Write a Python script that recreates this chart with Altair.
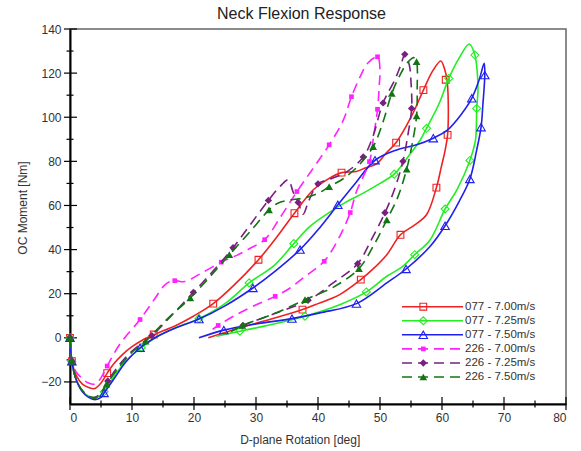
import altair as alt
import pandas as pd

# ---------------- data ----------------
names = ["077 - 7.00m/s", "077 - 7.25m/s", "077 - 7.50m/s",
         "226 - 7.00m/s", "226 - 7.25m/s", "226 - 7.50m/s"]

# 077 - 7.00 m/s
red_x = [0, 0.3, 1, 2, 3, 4, 5, 6, 7, 8.5, 10, 12, 14, 17, 19.9, 23.1, 26.5, 30.4, 33.3, 36.2,
         39.2, 41.4, 43.8, 46.2, 47.6, 49.5, 51, 52.6, 55, 57, 58.5, 59.8, 60.4, 60.8, 61, 60.9,
         60.5, 59.9, 59.1, 57.5, 55.5, 53.3, 51.1, 48.8, 46.9, 43.5, 40, 37.5, 33, 28, 22.3]
red_y = [0, -10.6, -17, -21, -22.5, -23, -20.5, -16, -12, -7.5, -4, -0.5, 2, 5.5, 9.8, 15.5, 24, 35.4, 45.5, 56.5,
         67, 71.6, 74.9, 75.4, 77, 79, 83.8, 88.5, 100, 112.3, 121, 125.5, 122, 117, 107.8, 92,
         85, 77.6, 68.1, 55.8, 51, 46.7, 37.7, 31, 26.4, 19.6, 15.5, 12.8, 9, 5, 0]
red_mx = [0, 0.3, 6, 13.5, 23.1, 30.4, 36.2, 43.8, 52.6, 57, 60.6, 60.9, 59.1, 53.3, 46.9, 37.5]
red_my = [0, -10.6, -16, 1.5, 15.5, 35.4, 56.5, 74.9, 88.5, 112.3, 117, 92, 68.1, 46.7, 26.4, 12.8]

# 077 - 7.25 m/s
grn_x = [0, 0.3, 1, 2, 3, 4, 5, 5.5, 7, 9, 11.5, 14, 17, 20.8, 25, 28.9, 33, 36.1, 38.7, 41.9,
         44.5, 47.3, 50, 52.3, 54.5, 56.5, 57.5, 59.5, 61.1, 62.8, 64.4, 65.3, 65.7, 65.8, 65.6, 65.4,
         64.5, 62.4, 60.5, 58.1, 55.6, 53.5, 51.1, 47.8, 43.5, 37.9, 32.5, 27.4, 23.6]
grn_y = [0, -10.6, -19, -24, -26.5, -27, -26, -24.5, -18, -10.5, -4.5, 0.5, 4.5, 8.7, 15.5, 24.9, 33, 42.7, 50.5, 57,
         61.5, 65.6, 70, 74.2, 82, 89.7, 95, 106, 117.6, 127, 133.2, 128.2, 119.9, 112, 104, 89.7,
         80.4, 67.1, 58.4, 44.5, 37.7, 32, 27.9, 20.8, 15, 9.8, 6, 3, 0.7]
grn_mx = [0, 0.3, 5.5, 11.5, 20.8, 28.9, 36.1, 52.3, 57.5, 61.1, 65.3, 65.6, 64.5, 60.5, 55.6, 47.8, 37.9, 27.4]
grn_my = [0, -10.6, -24.5, -4.5, 8.7, 24.9, 42.7, 74.2, 95, 117.6, 128.2, 104, 80.4, 58.4, 37.7, 20.8, 9.8, 3]

# 077 - 7.50 m/s
blu_x = [0, 0.3, 1, 2, 3, 4, 5, 5.5, 7, 9, 11.3, 14, 17, 20.8, 25, 29.5, 33, 37.1, 40, 43.2,
         46, 49.2, 52.7, 55.9, 58.6, 60.8, 62.4, 64.8, 66, 66.8, 66.9, 66.6, 66.3, 65.6, 64.5, 62.8,
         60.5, 58.1, 54.2, 51.1, 46.2, 40.3, 35.8, 30, 24.8, 20.8]
blu_y = [0, -10.6, -19, -24.5, -27, -28, -27, -25, -19, -11, -4.5, 0.5, 4.5, 8.5, 14.5, 22.6, 30, 40, 49, 60.3,
         70, 80.5, 85.2, 87.5, 90.5, 94, 98.8, 108.6, 117, 124.4, 119.1, 106, 95.5, 85.2, 72, 62,
         50.8, 41.5, 31.2, 24.9, 15.5, 11.3, 8.7, 6.3, 3.5, 0]
blu_mx = [0, 0.3, 5.5, 11.3, 20.8, 29.5, 37.1, 43.2, 49.2, 58.6, 64.8, 66.9, 66.3, 64.5, 60.5, 54.2, 46.2, 35.8, 24.8]
blu_my = [0, -10.6, -25, -4.5, 8.5, 22.6, 40, 60.3, 80.5, 90.5, 108.6, 119.1, 95.5, 72, 50.8, 31.2, 15.5, 8.7, 3.5]

# 226 - 7.00 m/s
mag_x = [0, 0.3, 1, 2, 3, 4, 4.8, 6, 8, 11.3, 13.5, 15.5, 16.9, 18.5, 21, 24.4, 27, 29, 31.4, 34,
         36.6, 39, 41.8, 44.1, 45.4, 46.8, 48, 49.6, 50, 49.9, 49.6, 49, 48.3, 46.2, 45.2, 43.5,
         41, 38, 35.5, 33.1, 29.5, 26.5, 23.9, 23]
mag_y = [0, -10.6, -15.5, -18.5, -20.5, -21, -19, -12.8, -3, 8.3, 17, 24.5, 25.9, 25.5, 29, 34.3, 37.5, 40.5, 44.5, 55,
         66.3, 76, 87.5, 98.8, 109.3, 118.4, 124.5, 127.4, 121, 115.4, 103.6, 92, 79.9, 66.3, 56.8, 46,
         34.7, 28, 22.6, 18.8, 14.3, 10, 5.6, 3.8]
mag_mx = [0, 0.3, 6, 11.3, 16.9, 24.4, 31.4, 36.6, 41.8, 45.4, 49.6, 49.6, 48.3, 45.2, 41, 33.1, 23.9]
mag_my = [0, -10.6, -12.8, 8.3, 25.9, 34.3, 44.5, 66.3, 87.5, 109.3, 127.4, 103.6, 79.9, 56.8, 34.7, 18.8, 5.6]

# 226 - 7.25 m/s
pur_x = [0, 0.3, 1, 2, 3, 4, 5, 6.1, 8, 10, 13.2, 16.5, 19.9, 23, 26.3, 29, 32, 34, 35.2, 36,
         36.8, 37.6, 38.5, 40, 42, 44.5, 47.3, 48.7, 50.5, 52.4, 53.4, 54, 54.7, 55, 55.1, 54.5,
         53.7, 52.3, 50.8, 48.7, 46.4, 42.5, 38.4, 33, 27.9, 26]
pur_y = [0, -10.6, -19, -24, -26.5, -27, -25, -19.6, -12, -6, 1, 10.5, 20.6, 30, 40.8, 51, 62.3, 69, 71.6, 66,
         61.4, 56, 62, 69.8, 72, 75, 82, 90, 106.5, 117, 124, 128.5, 124, 116, 104, 92,
         80, 67, 56.7, 45, 33.6, 25, 17, 11, 5.6, 3]
pur_mx = [0, 0.3, 6.1, 13.2, 19.9, 26.3, 32, 36.8, 40, 47.3, 50.5, 54, 55.1, 53.7, 50.8, 46.4, 38.4, 27.9]
pur_my = [0, -10.6, -19.6, 1, 20.6, 40.8, 62.3, 61.4, 69.8, 82, 106.5, 128.5, 104, 80, 56.7, 33.6, 17, 5.6]

# 226 - 7.50 m/s
dgr_x = [0, 0.3, 1, 2, 3, 4, 5, 5.9, 8, 10, 12.2, 15.5, 19.4, 22.5, 25.7, 29, 32.1, 33.5, 35.5, 38,
         40, 41.8, 44, 46.5, 48.9, 50.5, 51.9, 53.2, 54.5, 55.5, 55.9, 56, 55.9, 55.2, 54.3, 52.9,
         51.1, 49, 46.6, 42.5, 37.9, 33, 27.8, 26]
dgr_y = [0, -10.6, -19, -24, -26.5, -27.5, -25, -21, -13, -6.5, -1.5, 8, 18.1, 27.5, 37.7, 48, 58, 61, 62.5, 63.5,
         65.5, 68.5, 72, 78, 86.7, 98, 110.8, 119, 125, 127, 125.2, 113, 100.6, 88, 76.5, 64,
         53.5, 42, 31.4, 23, 17.3, 11, 5.6, 3]
dgr_mx = [0, 0.3, 5.9, 12.2, 19.4, 25.7, 32.1, 41.8, 48.9, 51.9, 55.9, 55.9, 54.3, 51.1, 46.6, 37.9, 27.8]
dgr_my = [0, -10.6, -21, -1.5, 18.1, 37.7, 58, 68.5, 86.7, 110.8, 125.2, 100.6, 76.5, 53.5, 31.4, 17.3, 5.6]

x_major = [0, 10, 20, 30, 40, 50, 60, 70, 80]
x_minor = [5, 15, 25, 35, 45, 55, 65, 75]
y_major = [-20, 0, 20, 40, 60, 80, 100, 120, 140]
y_minor = [-10, 10, 30, 50, 70, 90, 110, 130]

# ---------------- styling ----------------
colors = ["#ee2222", "#22ee22", "#1f1fee", "#ff22ff", "#7a1f80", "#137413"]
shapes = ["square", "diamond", "triangle-up", "square", "diamond", "triangle-up"]
filled = [False, False, False, True, True, True]
dashed = [False, False, False, True, True, True]
msize = [46, 64, 72, 22, 55, 60]

series = [
    (red_x, red_y, red_mx, red_my),
    (grn_x, grn_y, grn_mx, grn_my),
    (blu_x, blu_y, blu_mx, blu_my),
    (mag_x, mag_y, mag_mx, mag_my),
    (pur_x, pur_y, pur_mx, pur_my),
    (dgr_x, dgr_y, dgr_mx, dgr_my),
]

W, H = 496, 375
FONT = "Liberation Sans"
xsc = alt.Scale(domain=[0, 80], nice=False, zero=False)
ysc = alt.Scale(domain=[-30, 140], nice=False, zero=False)

ax_x = alt.Axis(values=x_major, ticks=False, tickSize=0, labelPadding=8, grid=False,
                domainColor="black", domainWidth=2, labelFont=FONT, labelFontSize=12,
                labelColor="#333333", title="D-plane Rotation [deg]", titleFont=FONT,
                titleFontSize=12, titleFontWeight="normal", titleColor="#333333",
                titleX=229.7, titleY=39.5, titleBaseline="alphabetic")
ax_y = alt.Axis(values=y_major, ticks=False, tickSize=0, labelPadding=9, grid=False,
                domainColor="black", domainWidth=2, labelFont=FONT, labelFontSize=12,
                labelColor="#333333", title="OC Moment [Nm]", titleFont=FONT,
                titleFontSize=12, titleFontWeight="normal", titleColor="#333333",
                titleX=-43.3, titleY=178.5, titleBaseline="alphabetic", titleAngle=270)

X = lambda f: alt.X(f, scale=xsc, axis=ax_x)
Y = lambda f: alt.Y(f, scale=ysc, axis=ax_y)

layers = []

# tick marks crossing the axes
layers.append(alt.Chart(pd.DataFrame({"v": y_major})).mark_rule(color="black", strokeWidth=1.2)
              .encode(y=Y("v:Q"), x=alt.value(-6), x2=alt.value(7)))
layers.append(alt.Chart(pd.DataFrame({"v": y_minor})).mark_rule(color="black", strokeWidth=1.2)
              .encode(y=Y("v:Q"), x=alt.value(-3.5), x2=alt.value(3.5)))
layers.append(alt.Chart(pd.DataFrame({"v": x_major})).mark_rule(color="black", strokeWidth=1.2)
              .encode(x=X("v:Q"), y=alt.value(H - 7), y2=alt.value(H + 6)))
layers.append(alt.Chart(pd.DataFrame({"v": x_minor})).mark_rule(color="black", strokeWidth=1.2)
              .encode(x=X("v:Q"), y=alt.value(H - 3.5), y2=alt.value(H + 3.5)))

for i, (sx, sy, mx, my) in enumerate(series):
    df = pd.DataFrame({"x": sx, "y": sy, "i": list(range(len(sx)))})
    lkw = dict(color=colors[i], strokeWidth=1.6, interpolate="catmull-rom")
    if dashed[i]:
        lkw["strokeDash"] = [10, 6]
    layers.append(alt.Chart(df).mark_line(**lkw).encode(x=X("x:Q"), y=Y("y:Q"), order="i:Q"))
    mdf = pd.DataFrame({"x": mx, "y": my})
    layers.append(alt.Chart(mdf).mark_point(shape=shapes[i], size=msize[i], filled=filled[i],
                                            color=colors[i], strokeWidth=1.1, opacity=1)
                  .encode(x=X("x:Q"), y=Y("y:Q")))

# legend (inside plot, lower right)
one = pd.DataFrame({"a": [0]})
for i, nm in enumerate(names):
    ly = 277.7 + 14.06 * i
    rkw = dict(color=colors[i], strokeWidth=1.6)
    if dashed[i]:
        rkw["strokeDash"] = [10, 6]
    layers.append(alt.Chart(one).mark_rule(**rkw)
                  .encode(x=alt.value(332), x2=alt.value(393), y=alt.value(ly)))
    layers.append(alt.Chart(one).mark_point(shape=shapes[i], size=msize[i], filled=filled[i],
                                            color=colors[i], strokeWidth=1.1, opacity=1)
                  .encode(x=alt.value(353.3), y=alt.value(ly)))
    layers.append(alt.Chart(one).mark_text(align="left", baseline="middle", font=FONT,
                                           fontSize=11.5, color="#333333")
                  .encode(x=alt.value(395), y=alt.value(ly), text=alt.value(nm)))

chart = alt.layer(*layers).properties(
    width=W, height=H,
    title=alt.TitleParams("Neck Flexion Response", font=FONT, fontSize=16, fontWeight="normal",
                          color="#222222", anchor="middle", dx=-16.5, offset=1),
    padding={"left": 70, "top": 29, "right": 15, "bottom": 47},
    autosize=alt.AutoSizeParams(type="none"),
    background="white",
).configure_view(stroke="#666666", strokeWidth=1.5)

chart.save("out.html", embed_options={"renderer": "svg", "actions": False})
